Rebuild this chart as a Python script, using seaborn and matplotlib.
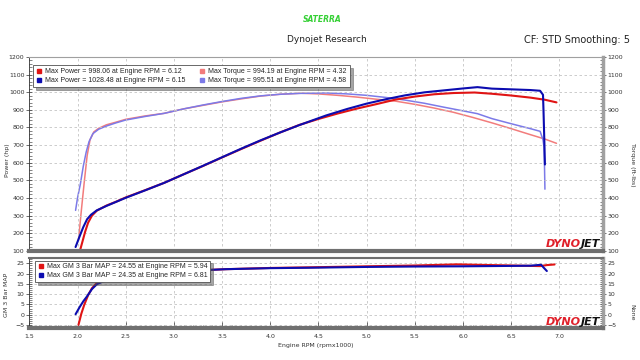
import matplotlib
matplotlib.use("Agg")
import pandas as pd
import seaborn as sns
from matplotlib import pyplot as plt
from matplotlib.lines import Line2D
from matplotlib.ticker import MultipleLocator, FormatStrFormatter

# run 1 (red)
rpm_pwr_1 = [2.02, 2.05, 2.08, 2.11, 2.15, 2.20, 2.30, 2.40, 2.50, 2.70, 2.90, 3.10, 3.30,
             3.50, 3.70, 3.90, 4.10, 4.30, 4.50, 4.70, 4.90, 5.10, 5.30, 5.50, 5.70,
             5.90, 6.12, 6.30, 6.50, 6.70, 6.85, 6.97]
power_1 = [90, 150, 210, 260, 300, 328, 357, 379, 403, 444, 486, 534, 581,
           630, 678, 725, 771, 814, 848, 879, 907, 932, 958, 975, 988,
           995, 998, 991, 981, 969, 957, 942]
rpm_trq_1 = [2.01, 2.04, 2.07, 2.10, 2.13, 2.17, 2.22, 2.30, 2.40, 2.50, 2.70, 2.90, 3.10,
             3.30, 3.50, 3.70, 3.90, 4.10, 4.32, 4.50, 4.70, 4.90, 5.10, 5.30, 5.50,
             5.70, 5.90, 6.10, 6.30, 6.50, 6.70, 6.85, 6.97]
torque_1 = [160, 330, 490, 640, 730, 775, 795, 815, 830, 846, 865, 880, 905,
            925, 945, 962, 978, 988, 994, 990, 982, 972, 960, 949, 931,
            910, 886, 857, 826, 793, 759, 734, 710]
rpm_map_1 = [2.01, 2.04, 2.07, 2.11, 2.15, 2.20, 2.26, 2.33, 2.40, 2.50, 2.67, 2.85, 3.02,
             3.30, 3.54, 4.00, 4.40, 5.00, 5.50, 5.94, 6.30, 6.60, 6.80, 6.87, 6.95]
map_1 = [-5.0, 0.5, 4.8, 9.5, 12.9, 15.5, 17.4, 18.1, 18.5, 19.0, 19.6, 20.3, 20.9,
         21.7, 22.2, 22.8, 23.1, 23.6, 24.0, 24.55, 24.2, 23.9, 23.7, 24.2, 24.5]

# run 2 (blue)
rpm_pwr_2 = [1.98, 2.02, 2.06, 2.10, 2.14, 2.20, 2.30, 2.40, 2.50, 2.70, 2.90, 3.10, 3.30,
             3.50, 3.70, 3.90, 4.10, 4.30, 4.58, 4.80, 5.00, 5.20, 5.40, 5.60, 5.80,
             6.00, 6.15, 6.30, 6.50, 6.70, 6.80, 6.83, 6.835, 6.84, 6.845, 6.85]
power_2 = [122, 180, 235, 280, 305, 330, 355, 378, 401, 443, 486, 534, 582,
           631, 680, 727, 771, 813, 868, 905, 935, 960, 982, 999, 1010,
           1021, 1028.5, 1020, 1016, 1012, 1008, 985, 900, 800, 700, 590]
rpm_trq_2 = [1.98, 2.00, 2.03, 2.06, 2.09, 2.12, 2.16, 2.22, 2.30, 2.40, 2.50, 2.70, 2.90,
             3.10, 3.30, 3.50, 3.70, 3.90, 4.10, 4.30, 4.58, 4.80, 5.00, 5.20, 5.40,
             5.60, 5.80, 6.00, 6.15, 6.30, 6.50, 6.70, 6.80, 6.83, 6.84, 6.845, 6.85]
torque_2 = [330, 400, 480, 580, 660, 720, 765, 790, 808, 826, 842, 862, 880,
            905, 927, 947, 965, 979, 988, 993, 995.5, 990, 982, 970, 955,
            937, 915, 894, 878, 850, 821, 793, 778, 730, 690, 600, 450]
rpm_map_2 = [1.98, 2.02, 2.06, 2.10, 2.15, 2.20, 2.26, 2.33, 2.40, 2.50, 2.67, 2.85, 3.02,
             3.30, 3.54, 4.00, 4.40, 5.00, 5.50, 6.00, 6.50, 6.70, 6.81, 6.84, 6.87]
map_2 = [0.2, 3.5, 6.5, 9.0, 12.5, 14.8, 16.1, 17.0, 17.7, 18.4, 19.3, 20.2, 20.9,
         21.7, 22.2, 22.7, 22.9, 23.3, 23.5, 23.6, 23.8, 23.9, 24.35, 22.8, 21.3]

power_labels = ["Max Power = 998.06 at Engine RPM = 6.12",
                "Max Power = 1028.48 at Engine RPM = 6.15"]
torque_labels = ["Max Torque = 994.19 at Engine RPM = 4.32",
                 "Max Torque = 995.51 at Engine RPM = 4.58"]
map_labels = ["Max GM 3 Bar MAP = 24.55 at Engine RPM = 5.94",
              "Max GM 3 Bar MAP = 24.35 at Engine RPM = 6.81"]

RED, BLUE = "#e01414", "#0c0cb0"
LRED, LBLUE = "#f27c7c", "#7c7ae8"
GRID = "#c4c4c4"

sns.set_theme(style="white")
plt.rcParams["font.family"] = ["DejaVu Sans"]

fig = plt.figure(figsize=(6.4, 3.6), dpi=100)
ax1 = fig.add_axes([0.0458, 0.303, 0.896, 0.539])
ax3 = fig.add_axes([0.0458, 0.089, 0.896, 0.194])
ax2 = ax1.twinx()


def draw(ax, x, y, color, lw):
    df = pd.DataFrame({"rpm": x, "val": y})
    sns.lineplot(data=df, x="rpm", y="val", ax=ax, sort=False, estimator=None,
                 color=color, lw=lw)


# torque on the right axis, power on the left
draw(ax2, rpm_trq_1, torque_1, LRED, 1.1)
draw(ax2, rpm_trq_2, torque_2, LBLUE, 1.1)
draw(ax1, rpm_pwr_1, power_1, RED, 1.5)
draw(ax1, rpm_pwr_2, power_2, BLUE, 1.5)
ax1.set_zorder(ax2.get_zorder() + 1)
ax1.patch.set_visible(False)
ax2.patch.set_visible(True)
ax2.patch.set_facecolor("white")

draw(ax3, rpm_map_1, map_1, RED, 1.5)
draw(ax3, rpm_map_2, map_2, BLUE, 1.5)

for ax in (ax1, ax2, ax3):
    ax.set_xlim(1.5, 7.45)
    ax.set_xlabel("")
    ax.set_ylabel("")
for ax in (ax1, ax2):
    ax.set_ylim(100, 1200)
    ax.yaxis.set_major_locator(MultipleLocator(100))
    ax.yaxis.set_minor_locator(MultipleLocator(20))
ax3.set_ylim(-6.5, 27.6)
ax3.yaxis.set_major_locator(MultipleLocator(5))
ax3.yaxis.set_minor_locator(MultipleLocator(1))

for ax in (ax1, ax3):
    ax.xaxis.set_major_locator(MultipleLocator(0.5))
    ax.grid(True, which="major", ls=(0, (3, 3)), color=GRID, lw=0.6)
ax3.xaxis.set_minor_locator(MultipleLocator(0.1))
ax3.xaxis.set_major_formatter(FormatStrFormatter("%.1f"))

ax1.tick_params(axis="x", bottom=False, labelbottom=False)
ax2.tick_params(axis="x", bottom=False, labelbottom=False)
ax1.tick_params(axis="y", which="major", left=True, direction="inout", length=4,
                width=0.5, labelsize=4.5, pad=1.5, colors="#333333")
ax1.tick_params(axis="y", which="minor", left=True, direction="in", length=2, width=0.4)
ax2.tick_params(axis="y", which="major", right=True, direction="inout", length=4,
                width=0.5, labelsize=4.5, pad=1.5, colors="#333333")
ax2.tick_params(axis="y", which="minor", right=True, direction="in", length=2, width=0.4)
ax3.tick_params(axis="y", which="major", left=True, right=True, labelright=True,
                direction="inout", length=4, width=0.5, labelsize=4.5, pad=1.5,
                colors="#333333")
ax3.tick_params(axis="y", which="minor", left=True, right=True, direction="in",
                length=2, width=0.4)
ax3.tick_params(axis="x", which="major", bottom=True, direction="in", length=4,
                width=0.5, labelsize=4.5, pad=4, colors="#333333")
ax3.tick_params(axis="x", which="minor", bottom=True, direction="in", length=2, width=0.4)

# spines like the dyno software
for s in ("left", "top", "right", "bottom"):
    ax2.spines[s].set_visible(False)
ax2.spines["right"].set_visible(True)
ax2.spines["right"].set_color("#a0a0a0")
ax2.spines["right"].set_linewidth(2.5)
ax1.spines["right"].set_visible(False)
ax1.spines["left"].set_color("#333333")
ax1.spines["left"].set_linewidth(0.6)
ax1.spines["top"].set_color("#a0a0a0")
ax1.spines["top"].set_linewidth(0.8)
ax1.spines["bottom"].set_color("#707070")
ax1.spines["bottom"].set_linewidth(3)
ax3.spines["left"].set_color("#333333")
ax3.spines["left"].set_linewidth(0.6)
ax3.spines["top"].set_color("#707070")
ax3.spines["top"].set_linewidth(1.5)
ax3.spines["right"].set_color("#a0a0a0")
ax3.spines["right"].set_linewidth(2.5)
ax3.spines["bottom"].set_color("#707070")
ax3.spines["bottom"].set_linewidth(3)


def sq(c):
    return Line2D([], [], marker="s", ls="none", color=c, markersize=3.5)


leg_kw = dict(frameon=True, fancybox=False, shadow=True,
              prop={"family": "Liberation Sans", "size": 5},
              edgecolor="#505050", borderpad=0.4, labelspacing=0.3,
              handletextpad=0.5, handlelength=0.8, loc="upper left")
leg1 = ax1.legend([sq(RED), sq(BLUE), sq(LRED), sq(LBLUE)],
                  power_labels + torque_labels, ncol=2, columnspacing=2.0,
                  bbox_to_anchor=(0.001, 0.975), **leg_kw)
leg1.get_frame().set_linewidth(0.6)
leg3 = ax3.legend([sq(RED), sq(BLUE)], map_labels,
                  bbox_to_anchor=(0.004, 1.015), **leg_kw)
leg3.get_frame().set_linewidth(0.6)

# DYNOJET marks
for ax in (ax1, ax3):
    ax.text(0.962, 0.012, "DYNO", transform=ax.transAxes, ha="right", va="bottom",
            fontsize=8, fontweight="bold", fontstyle="italic", color="#e0202a",
            zorder=5)
    ax.text(0.962, 0.012, "JET", transform=ax.transAxes, ha="left", va="bottom",
            fontsize=8, fontweight="bold", fontstyle="italic", color="#111111",
            zorder=5)

fig.text(322 / 640, 1 - 19 / 360, "SATERRA", ha="center", va="center", fontsize=5.5,
         fontweight="bold", fontstyle="italic", color="#35d035")
fig.text(327 / 640, 1 - 40 / 360, "Dynojet Research", ha="center", va="center",
         fontsize=6.5, color="#222222")
fig.text(630 / 640, 1 - 40 / 360, "CF: STD Smoothing: 5", ha="right", va="center",
         fontsize=7, color="#222222")
fig.text(7 / 640, 1 - 160 / 360, "Power (hp)", rotation=90, ha="center", va="center",
         fontsize=4.5, color="#333333")
fig.text(632 / 640, 1 - 165 / 360, "Torque (ft-lbs)", rotation=270, ha="center",
         va="center", fontsize=4.5, color="#333333")
fig.text(7 / 640, 1 - 295 / 360, "GM 3 Bar MAP", rotation=90, ha="center", va="center",
         fontsize=4.5, color="#333333")
fig.text(632 / 640, 1 - 312 / 360, "None", rotation=270, ha="center", va="center",
         fontsize=4.5, color="#333333")
fig.text(316 / 640, 1 - 346 / 360, "Engine RPM (rpmx1000)", ha="center", va="center",
         fontsize=4.5, color="#333333")

fig.savefig("out.png", dpi=100, facecolor="white")
